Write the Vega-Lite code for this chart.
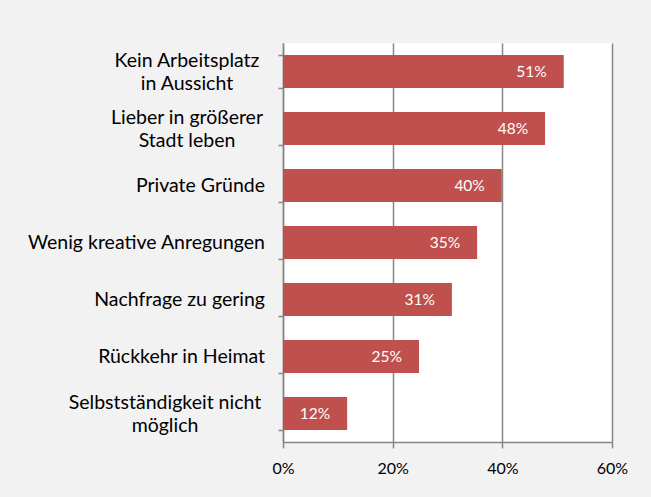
{
  "$schema": "https://vega.github.io/schema/vega-lite/v6.json",
  "width": 329,
  "height": 399,
  "autosize": "none",
  "padding": {"left": 283, "top": 43, "right": 39, "bottom": 55},
  "background": "#f2f2f2",
  "config": {
    "view": {"fill": "white", "stroke": null},
    "font": "Lato",
    "axis": {"labelColor": "black", "domainColor": "#868686", "tickColor": "#868686", "gridColor": "#868686", "domainWidth": 1.5, "tickWidth": 1.5, "gridWidth": 1.5}
  },
  "data": {
    "values": [
      {"reason": "Kein Arbeitsplatz|in Aussicht", "value": 0.512},
      {"reason": "Lieber in größerer|Stadt leben", "value": 0.478},
      {"reason": "Private Gründe", "value": 0.399},
      {"reason": "Wenig kreative Anregungen", "value": 0.354},
      {"reason": "Nachfrage zu gering", "value": 0.308},
      {"reason": "Rückkehr in Heimat", "value": 0.248},
      {"reason": "Selbstständigkeit nicht|möglich", "value": 0.117}
    ]
  },
  "encoding": {
    "y": {
      "field": "reason",
      "type": "nominal",
      "sort": null,
      "scale": {"paddingInner": 0.42, "paddingOuter": 0.21},
      "axis": {
        "title": null,
        "tickBand": "extent",
        "tickSize": 5,
        "labels": false
      }
    },
    "x": {
      "field": "value",
      "type": "quantitative",
      "scale": {"domain": [0, 0.6]},
      "axis": {
        "title": null,
        "format": ".0%",
        "values": [0, 0.2, 0.4, 0.6],
        "tickSize": 6,
        "labelPadding": 12,
        "labelFlush": false,
        "labelFont": "Lato",
        "labelFontSize": 16,
        "grid": true
      }
    }
  },
  "layer": [
    {"mark": {"type": "bar", "color": "#c0504d"}},
    {
      "mark": {"type": "text", "align": "right", "baseline": "middle", "dx": -17, "color": "white", "fontSize": 15.5, "font": "Lato"},
      "encoding": {"text": {"field": "value", "format": ".0%"}}
    },
    {
      "transform": [{"filter": "indexof(datum.reason, '|') < 0"}],
      "mark": {"type": "text", "align": "right", "baseline": "middle", "dx": -18, "color": "black", "fontSize": 19.5, "font": "Lato"},
      "encoding": {"x": {"datum": 0}, "text": {"field": "reason"}}
    },
    {
      "transform": [{"filter": "indexof(datum.reason, 'Kein') == 0 || indexof(datum.reason, 'Lieber') == 0"}],
      "mark": {"type": "text", "align": "center", "baseline": "middle", "lineBreak": "|", "lineHeight": 23, "dx": -96, "dy": -10.5, "color": "black", "fontSize": 19.5, "font": "Lato"},
      "encoding": {"x": {"datum": 0}, "text": {"field": "reason"}}
    },
    {
      "transform": [{"filter": "indexof(datum.reason, 'Selbst') == 0"}],
      "mark": {"type": "text", "align": "center", "baseline": "middle", "lineBreak": "|", "lineHeight": 23, "dx": -118, "dy": -10.5, "color": "black", "fontSize": 19.5, "font": "Lato"},
      "encoding": {"x": {"datum": 0}, "text": {"field": "reason"}}
    }
  ]
}
